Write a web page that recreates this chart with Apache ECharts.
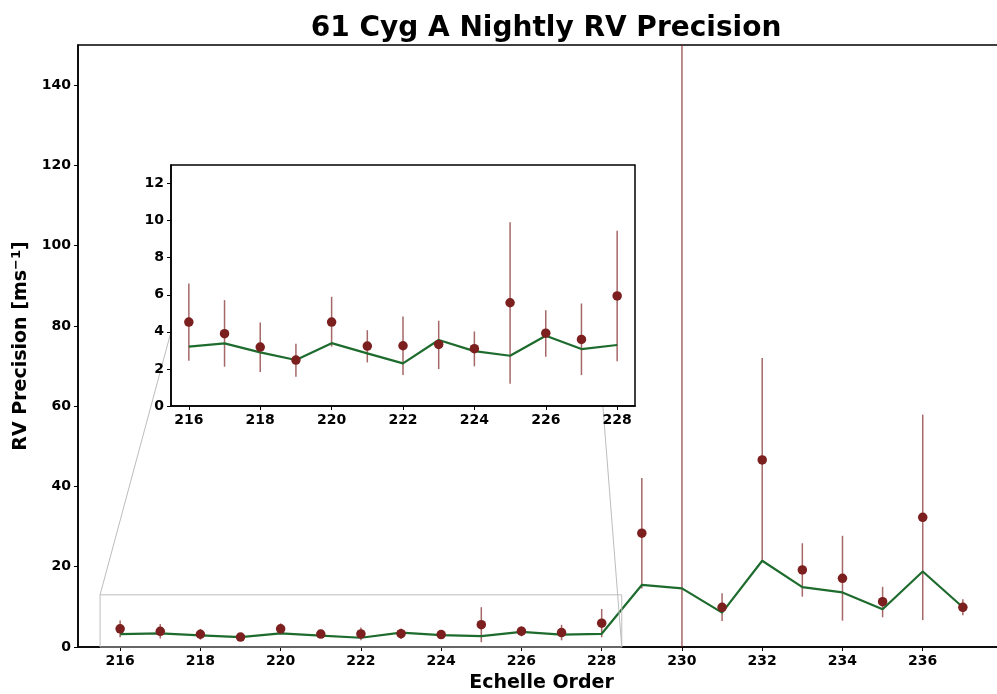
<!DOCTYPE html>
<html>
<head>
<meta charset="utf-8">
<script src="https://cdn.jsdelivr.net/npm/echarts@6/dist/echarts.min.js"></script>
<style>
html,body{margin:0;padding:0;background:#fff;}
#chart{width:997px;height:694px;}
</style>
</head>
<body>
<div id="chart"></div>
<script>
const orders = [216,217,218,219,220,221,222,223,224,225,226,227,228,229,230,231,232,233,234,235,236,237];
const rvPrecision = [4.53,3.90,3.18,2.48,4.53,3.23,3.25,3.32,3.09,5.57,3.93,3.59,5.94,28.35,170,9.9,46.6,19.2,17.1,11.3,32.3,9.9];
const errLow  = [2.44,2.12,1.83,1.58,3.20,2.35,1.67,1.99,2.14,1.20,2.66,1.67,2.41,14.6,-30,6.48,21.2,12.55,6.57,7.4,6.7,7.9];
const errHigh = [6.61,5.71,4.51,3.36,5.89,4.09,4.83,4.60,4.02,9.91,5.17,5.53,9.45,42.1,370,13.4,72.0,25.85,27.7,15.0,57.9,11.9];
const expected = [3.20,3.38,2.89,2.48,3.39,2.84,2.30,3.56,2.96,2.71,3.79,3.07,3.29,15.46,14.6,8.56,21.5,14.9,13.6,9.4,18.8,9.9];

const mainXTicks = [216,218,220,222,224,226,228,230,232,234,236];
const mainYTicks = [0,20,40,60,80,100,120,140];
const insetXTicks = [216,218,220,222,224,226,228];
const insetYTicks = [0,2,4,6,8,10,12];
const mainXRange = [214.95, 238.05];
const mainYRange = [0, 150];
const insetXRange = [215.5, 228.5];
const insetYRange = [0, 13];
const insetLast = 228;

const FONT = 'DejaVu Sans';
const markerColor = '#7b1f1f';
const barColor = 'rgba(123,31,31,0.68)';
const lineColor = '#1e6b2e';

const ptsAll = orders.map((o,i)=>[o, rvPrecision[i]]);
const barsAll = orders.map((o,i)=>[o, errLow[i], errHigh[i]]);
const lineAll = orders.map((o,i)=>[o, expected[i]]);
const inIdx = orders.map((o,i)=>i).filter(i=>orders[i] <= insetLast);
const ptsIn = inIdx.map(i=>ptsAll[i]);
const barsIn = inIdx.map(i=>barsAll[i]);
const lineIn = inIdx.map(i=>lineAll[i]);

function errRender(params, api){
  const p1 = api.coord([api.value(0), api.value(1)]);
  const p2 = api.coord([api.value(0), api.value(2)]);
  return {type:'line', shape:{x1:p1[0],y1:p1[1],x2:p2[0],y2:p2[1]},
    style:{stroke:barColor, lineWidth:1.5}};
}

function axisCommon(ticks, margin){
  return {
    axisLine:{show:true, onZero:false, lineStyle:{color:'#000', width:1.5}},
    axisTick:{show:true, inside:false, length:4, customValues:ticks, lineStyle:{color:'#000', width:1}},
    axisLabel:{customValues:ticks, margin:margin, color:'#000', fontFamily:FONT, fontWeight:'bold', fontSize:14},
    splitLine:{show:false}
  };
}

const chart = echarts.init(document.getElementById('chart'), null, {renderer:'canvas'});
chart.setOption({
  animation:false,
  backgroundColor:'#fff',
  title:{text:'61 Cyg A Nightly RV Precision', left:541, textAlign:'center', top:10,
    textStyle:{fontFamily:FONT, fontWeight:'bold', fontSize:28, color:'#000'}},
  grid:[
    {left:78, top:45, width:927, height:602, containLabel:false, outerBoundsMode:'none',
      show:true, borderColor:'#000', borderWidth:1.5, backgroundColor:'transparent', z:0},
    {left:171, top:165, width:464, height:241, containLabel:false, outerBoundsMode:'none',
      show:true, borderColor:'#000', borderWidth:1.5, backgroundColor:'#fff', z:10}
  ],
  xAxis:[
    Object.assign({type:'value', gridIndex:0, min:mainXRange[0], max:mainXRange[1],
      name:'Echelle Order', nameLocation:'middle', nameGap:27,
      nameTextStyle:{fontFamily:FONT, fontWeight:'bold', fontSize:19, color:'#000', verticalAlign:'top'}}, axisCommon(mainXTicks,7)),
    Object.assign({type:'value', gridIndex:1, min:insetXRange[0], max:insetXRange[1], z:11}, axisCommon(insetXTicks,7))
  ],
  yAxis:[
    Object.assign({type:'value', gridIndex:0, min:mainYRange[0], max:mainYRange[1],
      name:'RV Precision [ms{sup|−1}]', nameLocation:'middle', nameGap:44, nameRotate:90,
      nameTextStyle:{fontFamily:FONT, fontWeight:'bold', fontSize:19, color:'#000',
        rich:{sup:{fontFamily:FONT, fontWeight:'bold', fontSize:13, color:'#000', verticalAlign:'top', padding:[0,0,9,0]}}}}, axisCommon(mainYTicks,7)),
    Object.assign({type:'value', gridIndex:1, min:insetYRange[0], max:insetYRange[1], z:11}, axisCommon(insetYTicks,7))
  ],
  series:[
    {type:'custom', xAxisIndex:0, yAxisIndex:0, data:barsAll, renderItem:errRender, clip:true, z:2, silent:true},
    {type:'line', xAxisIndex:0, yAxisIndex:0, data:lineAll, showSymbol:false, symbol:'none', clip:true, z:3,
      lineStyle:{color:lineColor, width:2.2}},
    {type:'scatter', xAxisIndex:0, yAxisIndex:0, data:ptsAll, symbol:'circle', symbolSize:9.5, clip:true, z:4,
      itemStyle:{color:markerColor, opacity:1}},
    {type:'custom', xAxisIndex:1, yAxisIndex:1, data:barsIn, renderItem:errRender, clip:true, z:12, silent:true},
    {type:'line', xAxisIndex:1, yAxisIndex:1, data:lineIn, showSymbol:false, symbol:'none', clip:true, z:13,
      lineStyle:{color:lineColor, width:2.2}},
    {type:'scatter', xAxisIndex:1, yAxisIndex:1, data:ptsIn, symbol:'circle', symbolSize:9.5, clip:true, z:14,
      itemStyle:{color:markerColor, opacity:1}}
  ]
});

// zoom indicator rectangle & connectors computed through the axes
const m = (x,y)=>chart.convertToPixel({xAxisIndex:0, yAxisIndex:0}, [x,y]);
const n = (x,y)=>chart.convertToPixel({xAxisIndex:1, yAxisIndex:1}, [x,y]);
const r0 = m(insetXRange[0], insetYRange[0]);
const r1 = m(insetXRange[1], insetYRange[1]);
const lA = m(insetXRange[0], insetYRange[1]);
const lB = n(insetXRange[0], 4);
const rA = m(insetXRange[1], insetYRange[0]);
const rB = n(227.6, insetYRange[0]);
const gStyle = {stroke:'#bdbdbd', lineWidth:1, fill:null};
chart.setOption({
  graphic:[
    {type:'rect', z:5, silent:true, shape:{x:r0[0], y:r1[1], width:r1[0]-r0[0], height:r0[1]-r1[1]}, style:gStyle},
    {type:'line', z:5, silent:true, shape:{x1:lA[0], y1:lA[1], x2:lB[0], y2:lB[1]}, style:gStyle},
    {type:'line', z:5, silent:true, shape:{x1:rA[0], y1:rA[1], x2:rB[0], y2:rB[1]}, style:gStyle}
  ]
});
</script>
</body>
</html>
